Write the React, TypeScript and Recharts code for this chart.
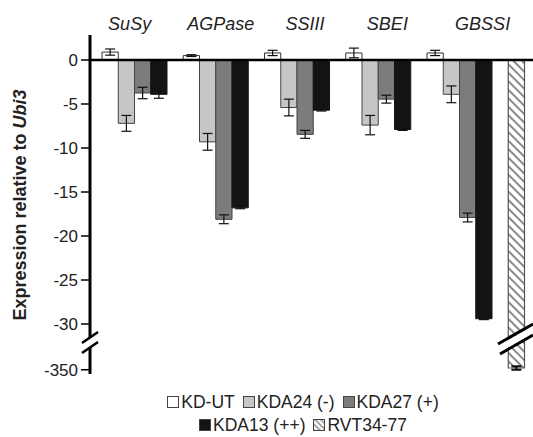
import { Bar, BarChart, ErrorBar, ReferenceLine, XAxis, YAxis } from "recharts";

const categories = ["SuSy", "AGPase", "SSIII", "SBEI", "GBSSI", ""];
const kdUt = [0.9, 0.5, 0.8, 0.8, 0.8, null];
const kdUtErr = [0.35, 0.1, 0.3, 0.55, 0.3, null];
const kda24 = [-7.2, -9.3, -5.4, -7.4, -3.9, null];
const kda24Err = [0.9, 0.95, 0.95, 1.1, 0.95, null];
const kda27 = [-3.75, -18.1, -8.45, -4.45, -17.9, null];
const kda27Err = [0.65, 0.5, 0.45, 0.45, 0.5, null];
const kda13 = [-3.9, -16.8, -5.7, -7.9, -29.4, null];
const kda13Err = [0.45, 0.1, 0.1, 0.1, 0.1, null];
const rvt = [null, null, null, null, null, -348];
const rvtErr = [null, null, null, null, null, 2];
const yTicks = [0, -5, -10, -15, -20, -25, -30, -350];

const FONT = '"Liberation Sans", Arial, sans-serif';

// broken axis: everything below -32 is squeezed to just under -35
const brk = (v: number | null) => (v == null ? null : v > -32 ? v : -35.2 + (v + 350) * 0.1);
const brkErr = (e: number | null) => (e == null ? null : e * 0.1);

const rows = categories.map((c, i) => ({
  name: c,
  kdUt: kdUt[i],
  kdUtErr: kdUtErr[i],
  kda24: kda24[i],
  kda24Err: kda24Err[i],
  kda27: kda27[i],
  kda27Err: kda27Err[i],
  kda13: kda13[i],
  kda13Err: kda13Err[i],
  rvt: brk(rvt[i]),
  rvtErr: brkErr(rvtErr[i]),
}));

const legendItems = [
  { label: "KD-UT", fill: "#fff" },
  { label: "KDA24 (-)", fill: "#c6c6c6" },
  { label: "KDA27 (+)", fill: "#7c7c7c" },
  { label: "KDA13 (++)", fill: "#141414" },
  { label: "RVT34-77", fill: "url(#hatchSw)" },
];

// category labels in the figure sit a bit off the group centres
const labelShift: Record<string, number> = { SuSy: -5, AGPase: 5, SSIII: 8, SBEI: 9, GBSSI: 23 };

function CategoryTick({ x, y, payload }: any) {
  if (!payload.value) return null;
  return (
    <text
      x={x + (labelShift[payload.value] ?? 0)}
      y={y}
      dy={3}
      textAnchor="middle"
      fontStyle="italic"
      fontSize={18}
      fontFamily={FONT}
      fill="#222"
    >
      {payload.value}
    </text>
  );
}

function Swatch({ fill }: { fill: string }) {
  return (
    <svg width={12} height={12} style={{ marginRight: 2, flex: "none" }}>
      <defs>
        <pattern id="hatchSw" patternUnits="userSpaceOnUse" width={4} height={4} patternTransform="rotate(-45)">
          <rect width={4} height={4} fill="#fff" />
          <line x1={1} y1={0} x2={1} y2={4} stroke="#8a8a8a" strokeWidth={1.5} />
        </pattern>
      </defs>
      <rect x={0.5} y={0.5} width={11} height={11} fill={fill} stroke="#444" strokeWidth={1} />
    </svg>
  );
}

function LegendRow({ items, top }: { items: typeof legendItems; top: number }) {
  return (
    <div
      style={{
        position: "absolute",
        left: 0,
        width: 606,
        top,
        height: 18,
        lineHeight: "18px",
        display: "flex",
        justifyContent: "center",
        alignItems: "center",
        gap: 8,
        fontFamily: FONT,
        fontSize: 17.5,
        color: "#222",
        whiteSpace: "nowrap",
      }}
    >
      {items.map((it) => (
        <span key={it.label} style={{ display: "flex", alignItems: "center" }}>
          <Swatch fill={it.fill} />
          {it.label}
        </span>
      ))}
    </div>
  );
}

export default function App() {
  return (
    <div
      style={{
        position: "absolute",
        left: 0,
        top: 0,
        width: 533,
        height: 437,
        overflow: "hidden",
        background: "#fff",
      }}
    >
      <BarChart
        width={600}
        height={437}
        data={rows}
        margin={{ top: 5, right: 18.5, bottom: 63, left: 0 }}
        barSize={16.25}
        barGap={0}
        stackOffset="sign"
      >
        <defs>
          <pattern id="hatch" patternUnits="userSpaceOnUse" width={6} height={6} patternTransform="rotate(-45)">
            <rect width={6} height={6} fill="#fff" />
            <line x1={2} y1={0} x2={2} y2={6} stroke="#8a8a8a" strokeWidth={2} />
          </pattern>
        </defs>
        <XAxis
          dataKey="name"
          orientation="top"
          height={30}
          axisLine={false}
          tickLine={false}
          padding={{ left: 4, right: 0 }}
          tick={<CategoryTick />}
          interval={0}
        />
        <YAxis
          width={90}
          domain={[-35.68, 2.84]}
          ticks={yTicks.map((t) => brk(t) as number)}
          tickFormatter={(v: number) => (v < -32 ? "-350" : String(v))}
          allowDataOverflow
          axisLine={{ stroke: "#000", strokeWidth: 3 }}
          tickLine={{ stroke: "#000", strokeWidth: 1.5 }}
          tickSize={9}
          tickMargin={3}
          tick={{ fontSize: 17, fontFamily: FONT, fill: "#222" }}
        />
        <Bar dataKey="kdUt" stackId="a" fill="#fff" stroke="#333" strokeWidth={1} isAnimationActive={false}>
          <ErrorBar dataKey="kdUtErr" width={5} stroke="#111" strokeWidth={1.2} direction="y" />
        </Bar>
        <Bar dataKey="kda24" fill="#c6c6c6" stroke="#444" strokeWidth={1} isAnimationActive={false}>
          <ErrorBar dataKey="kda24Err" width={5} stroke="#111" strokeWidth={1.2} direction="y" />
        </Bar>
        <Bar dataKey="kda27" fill="#7c7c7c" stroke="#444" strokeWidth={1} isAnimationActive={false}>
          <ErrorBar dataKey="kda27Err" width={5} stroke="#111" strokeWidth={1.2} direction="y" />
        </Bar>
        <Bar dataKey="kda13" fill="#141414" stroke="#141414" strokeWidth={1} isAnimationActive={false}>
          <ErrorBar dataKey="kda13Err" width={5} stroke="#111" strokeWidth={1.2} direction="y" />
        </Bar>
        <Bar dataKey="rvt" stackId="a" fill="url(#hatch)" stroke="#555" strokeWidth={1.2} isAnimationActive={false}>
          <ErrorBar dataKey="rvtErr" width={5} stroke="#111" strokeWidth={2} direction="y" />
        </Bar>
        <ReferenceLine y={0} stroke="#000" strokeWidth={2.5} />
      </BarChart>

      <svg width={533} height={437} style={{ position: "absolute", left: 0, top: 0, pointerEvents: "none" }}>
        <text
          transform="translate(26,205) rotate(-90)"
          textAnchor="middle"
          fontFamily={FONT}
          fontSize={18}
          fontWeight="bold"
          fill="#222"
        >
          Expression relative to <tspan fontStyle="italic">Ubi3</tspan>
        </text>
        {/* axis break */}
        <polygon points="80,345 100,332 100,341 80,354" fill="#fff" />
        <line x1={82} y1={343} x2={98} y2={332} stroke="#000" strokeWidth={2.5} />
        <line x1={82} y1={353} x2={98} y2={342} stroke="#000" strokeWidth={2.5} />
        {/* bar break */}
        <polygon points="498,346 533,326 533,334 498,353" fill="#fff" />
        <line x1={498} y1={344} x2={533} y2={324} stroke="#000" strokeWidth={3} />
        <line x1={500} y1={354} x2={533} y2={335} stroke="#000" strokeWidth={3} />
      </svg>

      <LegendRow items={legendItems.slice(0, 3)} top={393} />
      <LegendRow items={legendItems.slice(3)} top={416} />
    </div>
  );
}
